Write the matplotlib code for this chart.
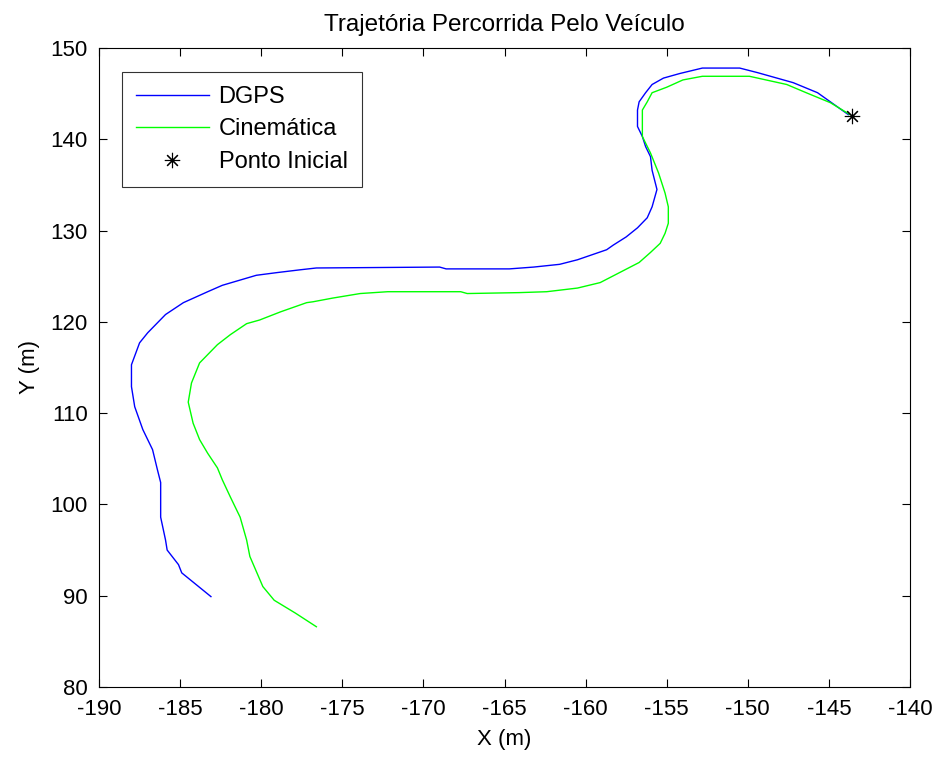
import matplotlib
matplotlib.use("Agg")
import matplotlib.pyplot as plt

# trajetoria DGPS (do ponto inicial ate o fim)
dgps_x = [-143.8, -145.7, -147.2, -148.4, -149.4, -150.5, -152.8, -154.2, -155.2, -155.9,
          -156.3, -156.7, -156.8, -156.8, -156.5, -156.3, -156.0, -155.9, -155.7, -155.6,
          -155.9, -156.2, -156.8, -157.5, -158.3, -158.7, -160.5, -161.6, -163.2, -164.7,
          -168.6, -169.0, -176.6, -177.6, -179.0, -180.3, -182.4, -183.3, -184.8, -185.9,
          -187.0, -187.5, -188.0, -188.0, -187.8, -187.3, -186.7, -186.4, -186.2, -186.2,
          -185.9, -185.8, -185.1, -184.9, -184.0, -183.1]
dgps_y = [142.7, 145.1, 146.2, 146.8, 147.3, 147.8, 147.8, 147.2, 146.7, 146.0,
          145.1, 144.1, 143.2, 141.4, 140.3, 139.2, 138.1, 136.6, 135.2, 134.5,
          132.6, 131.4, 130.3, 129.3, 128.4, 127.9, 126.8, 126.3, 126.0, 125.8,
          125.8, 126.0, 125.9, 125.7, 125.4, 125.1, 124.0, 123.3, 122.1, 120.8,
          118.8, 117.7, 115.3, 112.9, 110.7, 108.2, 106.0, 103.8, 102.4, 98.6,
          96.1, 95.0, 93.4, 92.5, 91.2, 89.9]

# trajetoria do modelo cinematico
cin_x = [-143.7, -144.9, -146.4, -147.6, -149.9, -152.8, -154.0, -155.0, -155.9, -156.2,
         -156.5, -156.5, -156.0, -155.5, -155.1, -154.9, -154.9, -155.1, -155.4, -156.0,
         -156.7, -157.9, -159.1, -160.5, -162.4, -164.1, -167.3, -167.7, -172.2, -173.9,
         -175.6, -176.8, -177.2, -178.8, -180.1, -180.9, -181.9, -182.7, -183.8, -184.3,
         -184.5, -184.2, -183.8, -183.3, -182.7, -182.4, -181.9, -181.3, -180.9, -180.7,
         -179.9, -179.2, -177.9, -176.6]
cin_y = [142.7, 144.0, 145.1, 146.0, 146.9, 146.9, 146.5, 145.7, 145.1, 144.1,
         143.2, 140.3, 138.5, 136.3, 134.1, 132.6, 130.8, 129.7, 128.6, 127.6,
         126.5, 125.4, 124.3, 123.7, 123.3, 123.2, 123.1, 123.3, 123.3, 123.1,
         122.6, 122.2, 122.1, 121.1, 120.2, 119.8, 118.6, 117.5, 115.5, 113.3,
         111.2, 108.9, 107.1, 105.6, 104.0, 102.7, 100.8, 98.6, 96.1, 94.3,
         91.0, 89.5, 88.1, 86.6]

inicio_x = [-143.6]
inicio_y = [142.6]

plt.rcParams['font.family'] = ['Liberation Sans', 'DejaVu Sans']
plt.rcParams['axes.unicode_minus'] = False

fig = plt.figure(figsize=(9.36, 7.58), dpi=100)
ax = fig.add_axes([0.1058, 0.0937, 0.8664, 0.843])

ax.plot(dgps_x, dgps_y, color='#0000ff', lw=1, label='DGPS')
ax.plot(cin_x, cin_y, color='#00ff00', lw=1, label='Cinemática')
# asterisco estilo matlab
ax.plot(inicio_x, inicio_y, color='black', marker=(8, 2, 0), ls='none', markersize=11,
        markeredgewidth=0.8, label='Ponto Inicial')

ax.set_xlim(-190, -140)
ax.set_ylim(80, 150)
ax.set_xticks(range(-190, -139, 5))
ax.set_yticks(range(80, 151, 10))
ax.tick_params(direction='in', top=True, right=True, labelsize=16, length=6, width=0.8)
ax.tick_params(axis='x', pad=9)
ax.tick_params(axis='y', pad=8)
for s in ax.spines.values():
    s.set_linewidth(0.8)
ax.set_xlabel('X (m)', fontsize=16, labelpad=6)
ax.set_ylabel('Y (m)', fontsize=16, labelpad=8)
ax.set_title('Trajetória Percorrida Pelo Veículo', fontsize=17.5, pad=12)

leg = ax.legend(loc='upper left', bbox_to_anchor=(0.028, 0.963), fontsize=17,
                handlelength=3.1, handletextpad=0.4, frameon=True, fancybox=False,
                borderpad=0.6, labelspacing=0.45, borderaxespad=0, edgecolor='black')
leg.get_frame().set_linewidth(0.8)

fig.savefig('out.png', dpi=100)
